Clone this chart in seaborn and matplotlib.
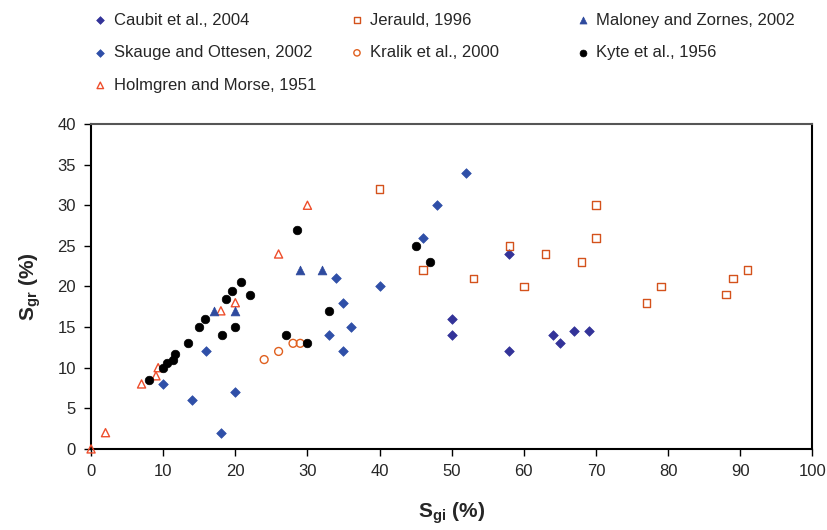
import numpy as np
import pandas as pd
import matplotlib
matplotlib.use("Agg")
import matplotlib.pyplot as plt
import seaborn as sns

# Caubit et al., 2004 (navy diamonds)
caubit_sgi = [50, 50, 58, 58, 64, 65, 67, 69]
caubit_sgr = [16, 14, 12, 24, 14, 13, 14.5, 14.5]

# Skauge and Ottesen, 2002 (blue diamonds)
skauge_sgi = [10, 14, 16, 18, 20, 33, 34, 35, 35, 36, 40, 46, 48, 52]
skauge_sgr = [8, 6, 12, 2, 7, 14, 21, 18, 12, 15, 20, 26, 30, 34]

# Jerauld, 1996 (open squares)
jerauld_sgi = [40, 46, 53, 58, 60, 63, 68, 70, 70, 77, 79, 88, 89, 91]
jerauld_sgr = [32, 22, 21, 25, 20, 24, 23, 30, 26, 18, 20, 19, 21, 22]

# Kralik et al., 2000 (open circles)
kralik_sgi = [24, 26, 28, 29]
kralik_sgr = [11, 12, 13, 13]

# Maloney and Zornes, 2002 (filled triangles)
maloney_sgi = [17, 20, 29, 32]
maloney_sgr = [17, 17, 22, 22]

# Kyte et al., 1956 (black dots)
kyte_sgi = [8, 10, 10.5, 11.3, 11.7, 13.5, 15, 15.8, 18.1, 18.7, 19.5, 20,
            20.8, 22, 27, 28.5, 30, 33, 45, 47]
kyte_sgr = [8.5, 10, 10.6, 11, 11.7, 13, 15, 16, 14, 18.5, 19.5, 15,
            20.5, 19, 14, 27, 13, 17, 25, 23]

# Holmgren and Morse, 1951 (open triangles)
holmgren_sgi = [0, 2, 7, 9, 9.3, 18, 20, 26, 30]
holmgren_sgr = [0, 2, 8, 9, 10, 17, 18, 24, 30]

x_ticks = list(range(0, 101, 10))
y_ticks = list(range(0, 41, 5))

sns.set_style("ticks")
plt.rcParams['font.family'] = ['Liberation Sans', 'DejaVu Sans']
plt.rcParams['mathtext.fontset'] = 'custom'
plt.rcParams['mathtext.rm'] = 'Liberation Sans'
plt.rcParams['mathtext.bf'] = 'Liberation Sans:bold'

fig = plt.figure(figsize=(8.28, 5.30), dpi=100)
ax = fig.add_axes([0.110, 0.153, 0.871, 0.613])

series = [
    ("Caubit et al., 2004", caubit_sgi, caubit_sgr, "D", "#333399", True, 24),
    ("Skauge and Ottesen, 2002", skauge_sgi, skauge_sgr, "D", "#2F4FA8", True, 24),
    ("Holmgren and Morse, 1951", holmgren_sgi, holmgren_sgr, "^", "#EE4E2C", False, 34),
    ("Jerauld, 1996", jerauld_sgi, jerauld_sgr, "s", "#D4521C", False, 30),
    ("Kralik et al., 2000", kralik_sgi, kralik_sgr, "o", "#E0601F", False, 32),
    ("Maloney and Zornes, 2002", maloney_sgi, maloney_sgr, "^", "#2E4A9E", True, 40),
    ("Kyte et al., 1956", kyte_sgi, kyte_sgr, "o", "#000000", True, 38),
]

handles = {}
for name, xs, ys, mk, col, filled, size in series:
    df = pd.DataFrame({"sgi": xs, "sgr": ys})
    if filled:
        sns.scatterplot(data=df, x="sgi", y="sgr", ax=ax, marker=mk, s=size,
                        color=col, edgecolor=col, linewidth=0.5,
                        clip_on=False, zorder=3)
    else:
        sns.scatterplot(data=df, x="sgi", y="sgr", ax=ax, marker=mk, s=size,
                        color=col, facecolor="none", edgecolor=col,
                        linewidth=1.0, clip_on=False, zorder=3)
    handles[name] = ax.collections[-1]

ax.set_xlim(0, 100)
ax.set_ylim(0, 40)
ax.set_xticks(x_ticks)
ax.set_yticks(y_ticks)
ax.tick_params(axis="both", labelsize=12, direction="out", length=5,
               width=1, color="black", pad=6)
for sp in ["left", "bottom", "right"]:
    ax.spines[sp].set_color("black")
    ax.spines[sp].set_linewidth(1.5)
ax.spines["top"].set_color("#555555")
ax.spines["top"].set_linewidth(1.5)

ax.set_xlabel(r"$\mathbf{S}_{\mathbf{gi}}$ $\mathbf{(\%)}$", fontsize=15, labelpad=15)
ax.set_ylabel(r"$\mathbf{S}_{\mathbf{gr}}$ $\mathbf{(\%)}$", fontsize=15, labelpad=10)

columns = [
    (["Caubit et al., 2004", "Skauge and Ottesen, 2002", "Holmgren and Morse, 1951"], 0.101),
    (["Jerauld, 1996", "Kralik et al., 2000"], 0.411),
    (["Maloney and Zornes, 2002", "Kyte et al., 1956"], 0.684),
]
for names, x0 in columns:
    fig.legend([handles[n] for n in names], names, loc="upper left",
               bbox_to_anchor=(x0, 0.998), frameon=False, fontsize=12,
               handlelength=0.6, handletextpad=0.5, labelspacing=1.05,
               borderaxespad=0.3, markerscale=0.8)

fig.savefig("out.png", dpi=100)
